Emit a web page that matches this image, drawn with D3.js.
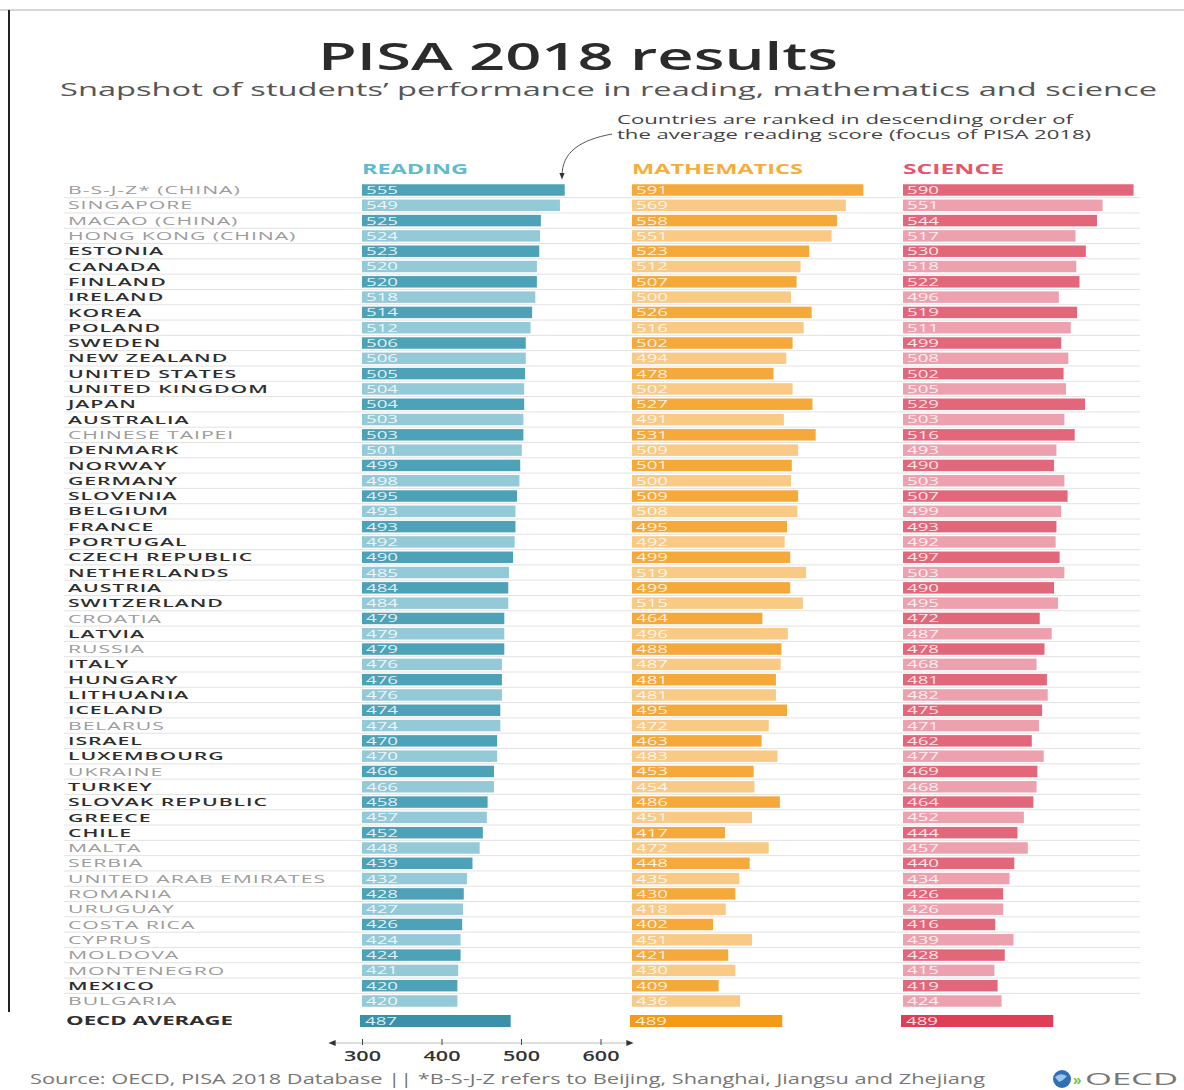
<!DOCTYPE html>
<html><head><meta charset="utf-8">
<script src="https://cdn.jsdelivr.net/npm/d3@7"></script>
<style>
html,body{margin:0;padding:0;background:#fff;}
svg{display:block;font-family:"Open Sans",sans-serif;}
</style></head>
<body><svg id="c" width="1184" height="1090"></svg>
<script>
const countries = ["B-S-J-Z* (CHINA)","SINGAPORE","MACAO (CHINA)","HONG KONG (CHINA)","ESTONIA","CANADA","FINLAND","IRELAND","KOREA","POLAND","SWEDEN","NEW ZEALAND","UNITED STATES","UNITED KINGDOM","JAPAN","AUSTRALIA","CHINESE TAIPEI","DENMARK","NORWAY","GERMANY","SLOVENIA","BELGIUM","FRANCE","PORTUGAL","CZECH REPUBLIC","NETHERLANDS","AUSTRIA","SWITZERLAND","CROATIA","LATVIA","RUSSIA","ITALY","HUNGARY","LITHUANIA","ICELAND","BELARUS","ISRAEL","LUXEMBOURG","UKRAINE","TURKEY","SLOVAK REPUBLIC","GREECE","CHILE","MALTA","SERBIA","UNITED ARAB EMIRATES","ROMANIA","URUGUAY","COSTA RICA","CYPRUS","MOLDOVA","MONTENEGRO","MEXICO","BULGARIA"];
const oecdMember = [0,0,0,0,1,1,1,1,1,1,1,1,1,1,1,1,0,1,1,1,1,1,1,1,1,1,1,1,0,1,0,1,1,1,1,0,1,1,0,1,1,1,1,0,0,0,0,0,0,0,0,0,1,0];
const reading = [555,549,525,524,523,520,520,518,514,512,506,506,505,504,504,503,503,501,499,498,495,493,493,492,490,485,484,484,479,479,479,476,476,476,474,474,470,470,466,466,458,457,452,448,439,432,428,427,426,424,424,421,420,420];
const mathematics = [591,569,558,551,523,512,507,500,526,516,502,494,478,502,527,491,531,509,501,500,509,508,495,492,499,519,499,515,464,496,488,487,481,481,495,472,463,483,453,454,486,451,417,472,448,435,430,418,402,451,421,430,409,436];
const science = [590,551,544,517,530,518,522,496,519,511,499,508,502,505,529,503,516,493,490,503,507,499,493,492,497,503,490,495,472,487,478,468,481,482,475,471,462,477,469,468,464,452,444,457,440,434,426,426,416,439,428,415,419,424];
const averageLabel = "OECD AVERAGE";
const averageValues = [487, 489, 489];
const subjects = ["READING","MATHEMATICS","SCIENCE"];
const tickValues = [300,400,500,600];

const svg = d3.select("#c");
function stretch(sel, f){
  sel.each(function(){
    const w = this.getComputedTextLength();
    d3.select(this).attr("textLength", w*f).attr("lengthAdjust","spacingAndGlyphs");
  });
}

// frame
svg.append("line").attr("x1",0).attr("x2",1184).attr("y1",10).attr("y2",10).attr("stroke","#c8c8c8").attr("stroke-width",1.5);
svg.append("line").attr("x1",9).attr("x2",9).attr("y1",10).attr("y2",1012).attr("stroke","#222").attr("stroke-width",2);

// titles
svg.append("text").attr("x",318).attr("y",70).attr("textLength",520).attr("lengthAdjust","spacingAndGlyphs")
  .attr("font-size",37).attr("font-weight",600).attr("fill","#2b2b2b").text("PISA 2018 results");
svg.append("text").attr("x",60).attr("y",96).attr("textLength",1097).attr("lengthAdjust","spacingAndGlyphs")
  .attr("font-size",19).attr("fill","#555").text("Snapshot of students\u2019 performance in reading, mathematics and science");

// annotation
svg.append("text").attr("x",617).attr("y",124).attr("textLength",456).attr("lengthAdjust","spacingAndGlyphs")
  .attr("font-size",12).attr("fill","#444").text("Countries are ranked in descending order of");
svg.append("text").attr("x",617).attr("y",139).attr("textLength",474).attr("lengthAdjust","spacingAndGlyphs")
  .attr("font-size",12).attr("fill","#444").text("the average reading score (focus of PISA 2018)");
const defs = svg.append("defs");
defs.append("marker").attr("id","ah").attr("viewBox","0 0 10 10").attr("refX",5).attr("refY",5)
  .attr("markerWidth",7).attr("markerHeight",7).attr("orient","auto")
  .append("path").attr("d","M0,1 L10,5 L0,9 Z").attr("fill","#333");
svg.append("path").attr("d","M612,134 C580,140 562,152 562,176").attr("fill","none")
  .attr("stroke","#555").attr("stroke-width",1).attr("marker-end","url(#ah)");

// scales
const y = d3.scaleBand().domain(countries).range([182.35,1008.65]).paddingInner(0.25).paddingOuter(0.125);
const colX = [362, 632, 903];
const span = 238.5;
const xs = colX.map(x0 => d3.scaleLinear().domain([300,600]).range([x0, x0+span]));
const series = [reading, mathematics, science];
const dark = ["#4ea2b8","#f5a93a","#e3677b"];
const light = ["#94c9d7","#f8ca85","#eda1ae"];
const avgCol = ["#3a91a8","#f39a16","#df3f56"];
const headCol = ["#62bacd","#f5ae3c","#e6566d"];

// headers
const headTargets = [106, 171, 101];
subjects.forEach((s,i)=>{
  svg.append("text").attr("x",colX[i]).attr("y",174).attr("font-size",14).attr("font-weight",700)
    .attr("fill",headCol[i]).attr("textLength",headTargets[i]).attr("lengthAdjust","spacingAndGlyphs").text(s);
});

// separators
countries.forEach((c,i)=>{
  const yy = y(c)+y.bandwidth()+ (y.step()-y.bandwidth())/2;
  if(i < countries.length-1)
    svg.append("line").attr("x1",64).attr("x2",1140).attr("y1",yy).attr("y2",yy).attr("stroke","#e3e3e3").attr("stroke-width",1);
});

// labels
const labels = svg.append("g").selectAll("text").data(countries).join("text")
  .attr("x",68).attr("y",d=>y(d)+y.bandwidth()/2).attr("dy","0.36em")
  .attr("font-size",11.5).attr("letter-spacing",0.5)
  .attr("font-weight",(d,i)=>oecdMember[i]?600:500)
  .attr("fill",(d,i)=>oecdMember[i]?"#2e2e2e":"#9c9c9c").text(d=>d);
let uaeW = 0;
labels.each(function(d){ if(d==="UNITED ARAB EMIRATES") uaeW = this.getComputedTextLength(); });
const labF = 258 / uaeW;
stretch(labels, labF);

// bars
series.forEach((vals,k)=>{
  const g = svg.append("g");
  g.selectAll("rect").data(vals).join("rect")
    .attr("x",xs[k](300)).attr("y",(d,i)=>y(countries[i]))
    .attr("width",d=>xs[k](d)-xs[k](300)).attr("height",y.bandwidth())
    .attr("fill",(d,i)=>i%2===0?dark[k]:light[k]);
  const t = g.selectAll("text").data(vals).join("text")
    .attr("x",xs[k](300)+4).attr("y",(d,i)=>y(countries[i])+y.bandwidth()/2).attr("dy","0.36em")
    .attr("font-size",11).attr("fill","#fff").attr("fill-opacity",0.85).text(d=>d);
  t.attr("textLength",32).attr("lengthAdjust","spacingAndGlyphs");
});

// OECD average
const avgY = 1015, avgH = 12;
const al = svg.append("text").attr("x",66).attr("y",avgY+avgH/2).attr("dy","0.36em").attr("font-size",12)
  .attr("font-weight",700).attr("fill","#2e2e2e").text(averageLabel);
al.attr("textLength",167).attr("lengthAdjust","spacingAndGlyphs");
averageValues.forEach((v,k)=>{
  svg.append("rect").attr("x",xs[k](300)-2).attr("y",avgY).attr("width",xs[k](v)-xs[k](300)+2).attr("height",avgH).attr("fill",avgCol[k]);
  svg.append("text").attr("x",xs[k](300)+3).attr("y",avgY+avgH/2).attr("dy","0.36em").attr("font-size",11)
    .attr("fill","#fff").attr("fill-opacity",0.85).attr("textLength",32).attr("lengthAdjust","spacingAndGlyphs").text(v);
});

// axis
const axY = 1043;
defs.append("marker").attr("id","ax").attr("viewBox","0 0 10 10").attr("refX",5).attr("refY",5)
  .attr("markerWidth",6).attr("markerHeight",6).attr("orient","auto-start-reverse")
  .append("path").attr("d","M0,1 L10,5 L0,9 Z").attr("fill","#333");
svg.append("line").attr("x1",332).attr("x2",630).attr("y1",axY).attr("y2",axY).attr("stroke","#bbb").attr("stroke-width",1.2)
  .attr("marker-start","url(#ax)").attr("marker-end","url(#ax)");
const axis = d3.axisBottom(xs[0]).tickValues(tickValues).tickSize(4).tickPadding(8);
const ag = svg.append("g").attr("transform",`translate(0,${axY-2})`).call(axis);
ag.select(".domain").remove();
ag.selectAll(".tick line").attr("stroke","#444").attr("y1",-2).attr("y2",4);
const tt = ag.selectAll(".tick text").attr("font-size",14).attr("font-weight",600)
  .attr("fill","#333").attr("font-family","Open Sans, sans-serif").attr("y",10);
tt.attr("textLength",37).attr("lengthAdjust","spacingAndGlyphs");

// footer
svg.append("text").attr("x",30).attr("y",1084).attr("textLength",955).attr("lengthAdjust","spacingAndGlyphs")
  .attr("font-size",14).attr("fill","#777").text("Source: OECD, PISA 2018 Database  ||  *B-S-J-Z refers to Beijing, Shanghai, Jiangsu and Zhejiang");
// OECD logo
svg.append("circle").attr("cx",1062).attr("cy",1079).attr("r",9).attr("fill","#2f6fb5");
svg.append("path").attr("d","M1055,1077 q5,-5 12,-1 q-3,4 -8,6 z").attr("fill","#9cc7ea");
svg.append("text").attr("x",1073).attr("y",1085).attr("font-size",14).attr("font-weight",700).attr("fill","#7cc04b").text("\u00bb");
svg.append("text").attr("x",1085).attr("y",1085).attr("textLength",93).attr("lengthAdjust","spacingAndGlyphs")
  .attr("font-size",17).attr("fill","#777").text("OECD");
</script></body></html>
